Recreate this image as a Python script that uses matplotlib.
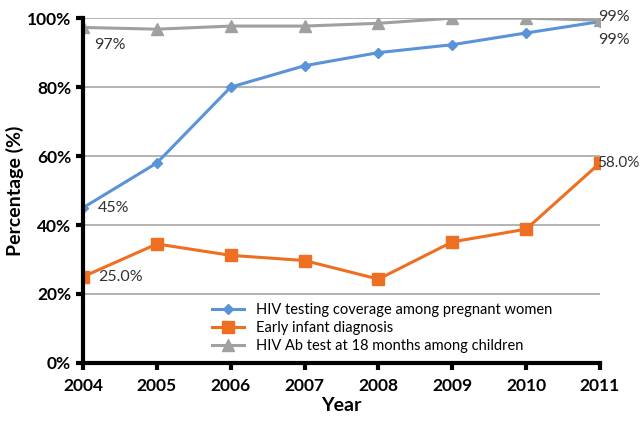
import numpy as np
import matplotlib.pyplot as plt
from matplotlib.ticker import PercentFormatter

plt.rcParams['font.family'] = ['Lato', 'DejaVu Sans']

years = [2004, 2005, 2006, 2007, 2008, 2009, 2010, 2011]
hiv_testing = [45, 58, 80, 86.2, 90, 92.3, 95.7, 99]
early_diag = [25, 34.5, 31.2, 29.7, 24.3, 35.1, 38.8, 58]
ab_test = [97.3, 96.8, 97.7, 97.7, 98.5, 100, 100, 99.4]

blue = '#5b93d8'
orange = '#ee6e22'
gray = '#a0a0a0'

fig = plt.figure(figsize=(6.41, 4.22), dpi=100)
ax = fig.add_axes([0.1295, 0.14, 0.8065, 0.817])

ax.plot(years, hiv_testing, color=blue, lw=2.2, marker='D', ms=5,
        label='HIV testing coverage among pregnant women', zorder=3)
ax.plot(years, early_diag, color=orange, lw=2.2, marker='s', ms=8,
        label='Early infant diagnosis', zorder=3)
ax.plot(years, ab_test, color=gray, lw=2.2, marker='^', ms=8,
        label='HIV Ab test at 18 months among children', zorder=3)

# data labels
lab_kw = dict(fontsize=11.5, color='#333333', va='center')
ax.text(2004.2, hiv_testing[0], '45%', **lab_kw)
ax.text(2004.2, early_diag[0], '25.0%', **lab_kw)
ax.text(2004.15, ab_test[0] - 5, '97%', **lab_kw)
ax.text(2010.98, 100.3, '99%', **lab_kw)
ax.text(2010.98, 93.8, '99%', **lab_kw)
ax.text(2010.96, early_diag[-1], '58.0%', fontsize=11, color='#333333', va='center')

ax.set_xlim(2004, 2011)
ax.set_ylim(0, 100)
ax.set_xticks(years)
ax.set_yticks(np.arange(0, 101, 20))
ax.yaxis.set_major_formatter(PercentFormatter(decimals=0))
for lab in ax.get_xticklabels() + ax.get_yticklabels():
    lab.set_fontweight('bold')
ax.tick_params(axis='both', labelsize=12.5, width=3, length=5, color='black')
ax.tick_params(axis='x', pad=6)

for y in [20, 40, 60, 80, 100]:
    ax.axhline(y, color='#a6a6a6', lw=1.2, zorder=1)

ax.spines['left'].set_linewidth(3)
ax.spines['bottom'].set_linewidth(3)
ax.spines['top'].set_visible(False)
ax.spines['right'].set_visible(False)
ax.spines['left'].set_zorder(4)

ax.set_xlabel('Year', fontsize=14, fontweight='bold', labelpad=2)
ax.set_ylabel('Percentage (%)', fontsize=14, fontweight='bold', labelpad=2)
for sp in ['left', 'bottom']:
    ax.spines[sp].set_clip_on(False)

ax.legend(loc='lower left', bbox_to_anchor=(0.23, 0.0), frameon=False,
          fontsize=10.5, handlelength=2.2, labelspacing=0.25, borderaxespad=0.3)

fig.savefig('out.png', dpi=100)
